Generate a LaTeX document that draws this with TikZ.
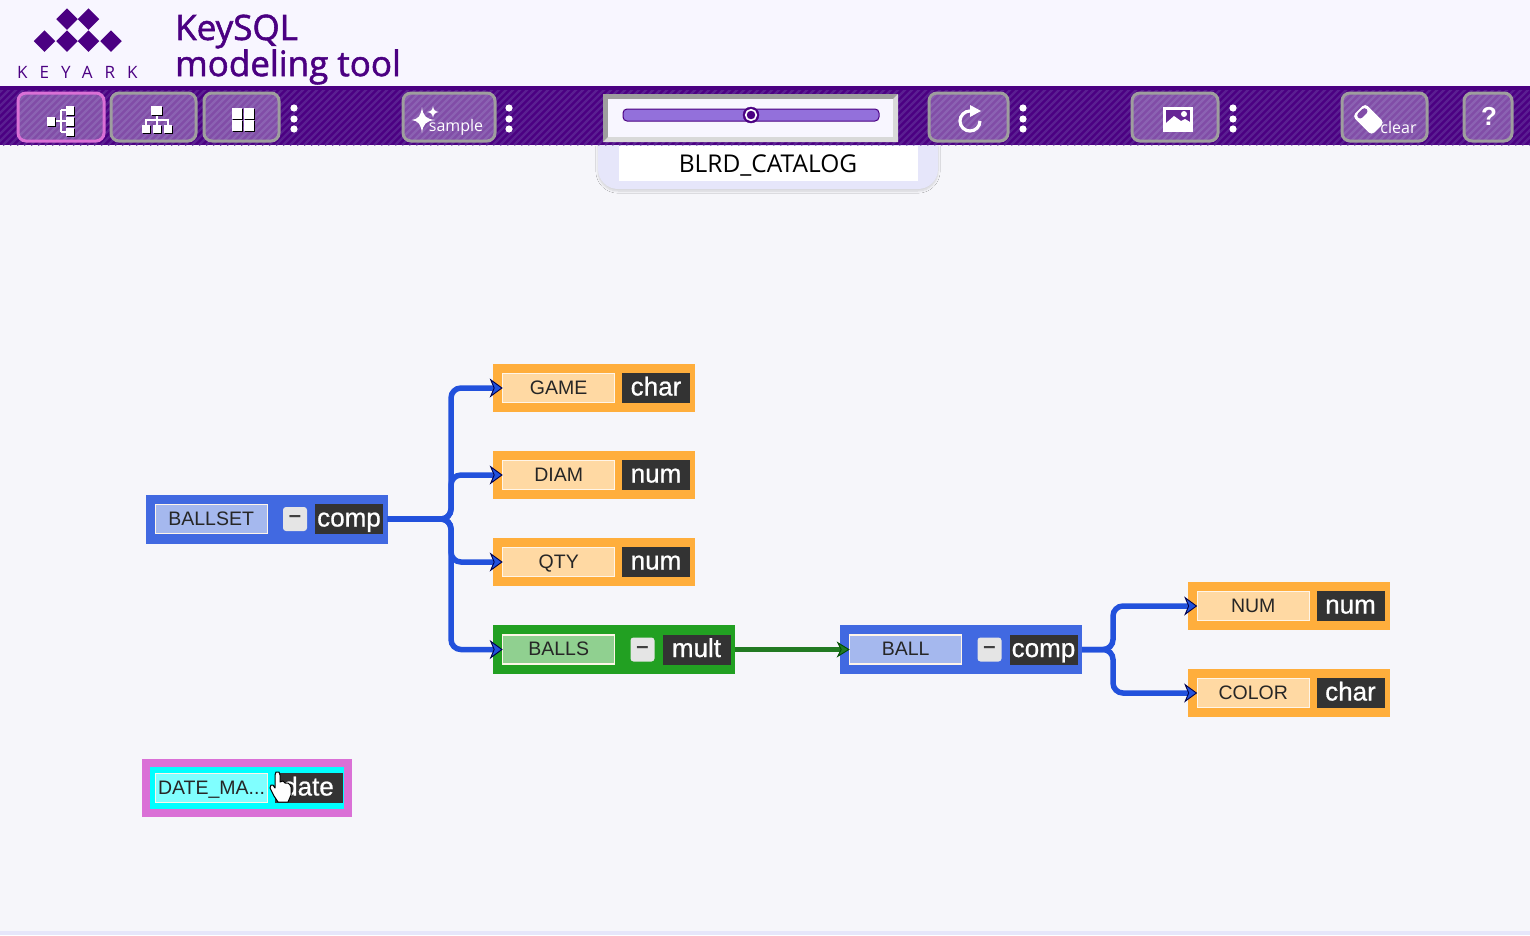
\documentclass[tikz,border=0pt]{standalone}
\usepackage{xcolor}
\usepackage{fontspec}
\setmainfont{Liberation Sans}
\newfontfamily\uifont{Open Sans}
\newfontfamily\titlefont[FakeBold=1.5]{Open Sans}
\newfontfamily\typefont[FakeBold=0.8]{Liberation Sans}
\newfontfamily\logofont[LetterSpace=71]{Open Sans}
\usepackage{tikz}
\usetikzlibrary{calc}
\usetikzlibrary{arrows.meta}
\usetikzlibrary{positioning}
\usetikzlibrary{shapes.geometric}
\usetikzlibrary{shadows.blur}
\definecolor{paper}{HTML}{F6F6FA}
\definecolor{head}{HTML}{F8F6FF}
\definecolor{indigo}{HTML}{4B0082}
\definecolor{stripe}{HTML}{5A1F91}
\definecolor{orchid}{HTML}{DA70D6}
\definecolor{lavend}{HTML}{E6E6FA}
\definecolor{slider}{HTML}{9370DB}
\definecolor{attrcol}{HTML}{FFAE3C}
\definecolor{attrlbl}{HTML}{FFD9A3}
\definecolor{compcol}{HTML}{4169E1}
\definecolor{complbl}{HTML}{A5B8EE}
\definecolor{multcol}{HTML}{22A022}
\definecolor{multlbl}{HTML}{90D090}
\definecolor{datecol}{HTML}{00FFFF}
\definecolor{datelbl}{HTML}{80FFFF}
\definecolor{linkblue}{HTML}{2251DC}
\definecolor{linkgreen}{HTML}{227A22}
\definecolor{typecol}{HTML}{333333}
\tikzset{
  attrbox/.style = {rectangle, inner sep=0, outer sep=0, fill=attrcol, minimum width=202pt, minimum height=48pt},
  compbox/.style = {rectangle, inner sep=0, outer sep=0, fill=compcol, minimum width=242pt, minimum height=49pt},
  multbox/.style = {compbox, fill=multcol},
  namebox/.style = {rectangle, inner sep=0, outer sep=0, draw=white!75!attrlbl, line width=1.2pt, minimum width=112pt, minimum height=29pt, text=black!85, text height=20.5pt, text depth=8.5pt, font=\fontsize{19.5}{19.5}\selectfont},
  typebox/.style = {rectangle, inner sep=0, outer sep=0, fill=typecol, minimum width=68pt, minimum height=30pt, text=white, text height=22.5pt, text depth=7.5pt, font=\typefont\fontsize{26}{26}\selectfont},
  minusbox/.style = {rectangle, rounded corners=3pt, inner sep=0, outer sep=0, fill=white!90!black, minimum size=24pt, text=black!75, font=\bfseries\fontsize{22}{22}\selectfont},
  link/.style = {draw=linkblue, line width=5.5pt, rounded corners=10pt, -{Stealth[length=13pt, width=19pt, inset=4pt, color=black!70!blue, fill=linkblue, line width=.9pt]}},
  greenlink/.style = {link, draw=linkgreen, line width=4.5pt, -{Stealth[length=13pt, width=16pt, inset=4pt, color=black!70!green, fill=linkgreen, line width=.9pt]}},
  toolbtn/.style = {draw=black!38, line width=3pt, rounded corners=8pt, fill=white, fill opacity=.3, draw opacity=1},
  keydiamond/.style = {diamond, fill=indigo, inner sep=0, outer sep=0, minimum size=21.5pt},
  toolcap/.style = {text=white, inner sep=0, font=\uifont\fontsize{16}{16}\selectfont}
}
\begin{document}
\begin{tikzpicture}[x=1pt, y=-1pt]
\useasboundingbox (0,0) rectangle (1530,935);
\fill [paper] (0,0) rectangle (1530,935);
\fill [lavend] (0,931) rectangle (1530,935);
\fill [head] (0,0) rectangle (1530,86);
% logo and title
\foreach \x/\y in {67/19, 88.5/19, 44.5/41, 67/41, 88.5/41, 111/41}
  \node [keydiamond] at (\x,\y) {};
\node [anchor=west, inner sep=0, text=indigo, font=\logofont\fontsize{17}{17}\selectfont] (keyark) at (17,72) {KEYARK};
\node [anchor=west, inner sep=0, text=indigo, font=\titlefont\fontsize{35}{35}\selectfont] (titleone) at (175,31.5) {KeySQL};
\node [anchor=west, inner sep=0, text=indigo, font=\titlefont\fontsize{35}{35}\selectfont] (titletwo) at (175,67) {modeling tool};
% model name
\draw [fill=lavend, draw=none, rounded corners=20pt, blur shadow={shadow blur steps=8, shadow xshift=0pt, shadow yshift=-2pt, shadow opacity=15}] (598,125) rectangle (938,189);
\fill [white] (619,146) rectangle (918,181);
\node [inner sep=0, text=black, font=\uifont\fontsize{24.5}{24.5}\selectfont] (modelname) at (768,165) {BLRD\_CATALOG};
% toolbar
\fill [indigo] (0,86) rectangle (1530,145);
\begin{scope}
\clip (0,90) rectangle (1530,145);
\foreach \x in {-60,-53,...,1530}
  \draw [stripe, line width=2.4pt] (\x,145) -- ++(60,-60);
\end{scope}
\draw [toolbtn, draw=orchid] (18,93) rectangle (104,141);
\draw [toolbtn] (111,93) rectangle (196,141);
\draw [toolbtn] (204,93) rectangle (279,141);
\draw [toolbtn] (403,93) rectangle (495,141);
\draw [toolbtn] (929,93) rectangle (1008,141);
\draw [toolbtn] (1132,93) rectangle (1218,141);
\draw [toolbtn] (1342,93) rectangle (1427,141);
\draw [toolbtn] (1464,93) rectangle (1512,141);
\foreach \x in {294,509,1023,1233}
  \foreach \y in {108,119,129}
    \fill [white] (\x,\y) circle (3.6pt);
% button icons
\draw [white, line width=1.2pt] (55,121) -- (61,121) (61,110) -- (61,132) (61,110) -- (66,110) (61,121) -- (66,121) (61,132) -- (66,132);
\foreach \x/\y/\w/\h in {47/117/8/9, 66/106/8/9, 66/117/8/9, 66/128/8/8} {
  \fill [black] (\x+1,\y+1) rectangle ++(\w,\h);
  \fill [white] (\x,\y) rectangle ++(\w,\h);
}
\draw [white, line width=1.2pt] (157,115) -- (157,125) (146,125) -- (146,120) -- (168,120) -- (168,125);
\foreach \x/\y/\w/\h in {151/106/11/9, 142/125/8/8, 153/125/8/8, 164/125/8/8} {
  \fill [black] (\x+1,\y+1) rectangle ++(\w,\h);
  \fill [white] (\x,\y) rectangle ++(\w,\h);
}
\foreach \x/\y in {231.5/108, 243.5/108, 231.5/120, 243.5/120} {
  \fill [black] (\x+1,\y+1) rectangle ++(10.5,10.5);
  \fill [white] (\x,\y) rectangle ++(10.5,10.5);
}
\fill [white] (422,107) .. controls (423,116) and (426,119) .. (435,120) .. controls (426,121) and (423,124) .. (422,133) .. controls (421,124) and (418,121) .. (412,120) .. controls (418,119) and (421,116) .. (422,107) -- cycle;
\fill [white] (433,106) .. controls (433.5,110) and (435,111.5) .. (439,112) .. controls (435,112.5) and (433.5,114) .. (433,118) .. controls (432.5,114) and (431,112.5) .. (427,112) .. controls (431,111.5) and (432.5,110) .. (433,106) -- cycle;
\node [toolcap] (samplecap) at (456,127) {sample};
\draw [white, line width=3.2pt] (980,121) arc (0:270:10);
\fill [white] (970,105) -- (981,111) -- (970,117) -- cycle;
\fill [white] (1163,107) rectangle (1193,132);
\fill [indigo!85] (1166,110) rectangle (1190,123);
\fill [white] (1166,123) -- (1174,116) -- (1181,121) -- (1185,119) -- (1190,122) -- (1190,125) -- (1166,125) -- cycle;
\fill [white] (1184,114) circle (3pt);
\begin{scope}[rotate around={-45:(1368,119)}]
\fill [white, rounded corners=4pt] (1355,110) rectangle (1382,128);
\fill [indigo!70, rounded corners=3pt] (1357,113) rectangle (1363,125);
\end{scope}
\node [toolcap] (clearcap) at (1398.5,127) {clear};
\node [inner sep=0, text=white, font=\bfseries\fontsize{26}{26}\selectfont] (helpcap) at (1489,116) {?};
% slider
\fill [black!38] (603,94) rectangle (898,142);
\fill [black!15] (898,94) -- (898,142) -- (603,142) -- (608,137) -- (893,137) -- (893,99) -- cycle;
\fill [head] (608,99) rectangle (893,137);
\draw [fill=slider, draw=indigo, line width=1pt, rounded corners=4pt] (623,109) rectangle (879,121);
\draw [fill=indigo, draw=indigo] (751,115) circle (8pt);
\draw [fill=indigo, draw=white, line width=1.6pt] (751,115) circle (5.3pt);
% attribute boxes
\foreach \nm/\txt/\typ/\x/\y in {game/GAME/char/594/388, diam/DIAM/num/594/475, qty/QTY/num/594/562, num/NUM/num/1288.5/606, color/COLOR/char/1288.5/693} {
  \node [attrbox] (\nm) at (\x,\y) {};
  \node [namebox, fill=attrlbl, right=9.7pt of \nm.west] (\nm-lbl) {\txt};
  \node [typebox, left=5pt of \nm.east] (\nm-typ) {\typ};
}
% group boxes
\foreach \nm/\txt/\typ/\sty/\col/\x/\y in {ballset/BALLSET/comp/compbox/complbl/266.5/519, balls/BALLS/mult/multbox/multlbl/614/649.5, ball/BALL/comp/compbox/complbl/961/649.5} {
  \node [\sty] (\nm) at (\x,\y) {};
  \node [namebox, fill=\col, right=9.7pt of \nm.west] (\nm-lbl) {\txt};
  \node [typebox, left=4.5pt of \nm.east] (\nm-typ) {\typ};
  \node [minusbox, left=8pt of \nm-typ] (\nm-min) {--};
}
% selected box
\node [rectangle, inner sep=0, outer sep=0, draw=orchid, line width=8pt, fill=datecol, minimum width=202pt, minimum height=50pt] (datema) at (247,788) {};
\node [namebox, fill=datelbl, right=9.5pt of datema.west] (datema-lbl) {DATE\_MA...};
\node [typebox, left=5.5pt of datema.east] (datema-typ) {date};
\draw [fill=white, draw=black, line width=1pt, line join=round] (275,775) -- (276,772) -- (279,772) -- (280,775) -- (280,782) -- (283,781) -- (285,783) -- (288,783) -- (290,785) -- (291,787) -- (291,795) -- (288,802) -- (278,802) -- (274,796) -- (270,788) -- (271,785) -- (273,785) -- (275,788) -- cycle;
% connectors
\coordinate (trunkset) at (451,519);
\coordinate (trunkball) at (1113,649);
\foreach \src/\tgt in {ballset/game, ballset/diam, ballset/qty, ballset/balls}
  \draw [link] (\src.east) -- (\src.east -| trunkset) |- (\tgt-lbl.west);
\foreach \tgt in {num, color}
  \draw [link] (ball.east) -- (ball.east -| trunkball) |- (\tgt-lbl.west);
\draw [greenlink] (balls.east) -- (ball-lbl.west);
\end{tikzpicture}
\end{document}
